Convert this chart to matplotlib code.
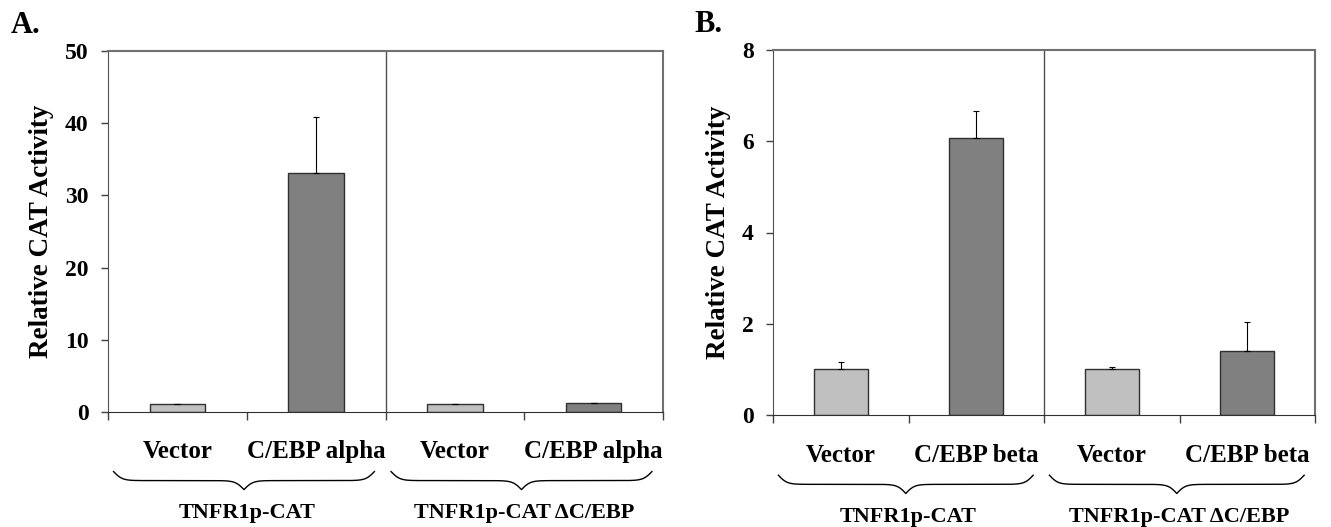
import numpy as np
import matplotlib
matplotlib.use("Agg")
import matplotlib.pyplot as plt
from matplotlib.transforms import blended_transform_factory

plt.rcParams["font.family"] = ["Liberation Serif", "DejaVu Serif"]
plt.rcParams["font.weight"] = "bold"

# ── data ──────────────────────────────────────────────────────────────
cats_a = ["Vector", "C/EBP alpha", "Vector", "C/EBP alpha"]
vals_a = [1.1, 33.1, 1.1, 1.2]
errs_a = [0.0, 7.7, 0.0, 0.0]

cats_b = ["Vector", "C/EBP beta", "Vector", "C/EBP beta"]
vals_b = [1.0, 6.07, 1.0, 1.40]
errs_b = [0.16, 0.60, 0.05, 0.63]

groups = ["TNFR1p-CAT", "TNFR1p-CAT \u0394C/EBP"]
bar_colors = ["#c0c0c0", "#808080", "#c0c0c0", "#808080"]


def brace(ax, x0, x1, y_top, y_tip):
    tr = blended_transform_factory(ax.transData, ax.transAxes)
    n = 301
    x = np.linspace(x0, x1, n)
    half = x[: n // 2 + 1]
    beta = 60.0 / (x1 - x0)
    yh = (1 / (1 + np.exp(-beta * (half - half[0])))
          + 1 / (1 + np.exp(-beta * (half - half[-1]))))
    y = np.concatenate((yh, yh[-2::-1]))
    y = (y - y.min()) / (y.max() - y.min())
    y = y_top + (y_tip - y_top) * y
    ax.plot(x, y, color="black", lw=1.0, transform=tr, clip_on=False)


def panel(ax, cats, vals, errs, ymax, step, letter, letter_x):
    xs = np.arange(len(cats))
    ax.bar(xs, vals, width=0.4, color=bar_colors, edgecolor="#303030",
           linewidth=1.0, zorder=2)
    ax.errorbar(xs, vals, yerr=[np.zeros(len(errs)), errs], fmt="none",
                ecolor="black", elinewidth=0.8, capsize=2.5, capthick=0.8,
                zorder=3)
    ax.set_xlim(-0.5, len(cats) - 0.5)
    ax.set_ylim(0, ymax)
    ax.set_yticks(np.arange(0, ymax + step / 2, step))
    ax.set_xticks(np.arange(-0.5, len(cats), 1.0))
    ax.set_xticklabels([])
    ax.tick_params(axis="y", direction="out", length=5, width=1,
                   labelsize=17, pad=9, color="#404040")
    ax.tick_params(axis="x", direction="out", length=6, width=1,
                   color="#404040")
    for lab in ax.get_yticklabels():
        lab.set_fontweight("bold")
    ax.spines["left"].set_color("#505050")
    ax.spines["bottom"].set_color("#303030")
    ax.spines["top"].set_color("#707070")
    ax.spines["right"].set_color("#707070")
    ax.spines["top"].set_linewidth(1.5)
    ax.spines["right"].set_linewidth(1.5)
    ax.axvline(1.5, color="#505050", lw=1.0, zorder=1)
    ax.set_ylabel("Relative CAT Activity", fontsize=19.5, fontweight="bold",
                  labelpad=8)

    tr = blended_transform_factory(ax.transData, ax.transAxes)
    for x, c in zip(xs, cats):
        ax.text(x, -0.11, c, transform=tr, ha="center", va="center",
                fontsize=18, fontweight="bold")
    for i, g in enumerate(groups):
        x0, x1 = 2 * i - 0.46, 2 * i + 1.42
        brace(ax, x0, x1, -0.165, -0.215)
        ax.text(2 * i + 0.5, -0.28, g, transform=tr, ha="center",
                va="center", fontsize=16, fontweight="bold")
    ax.text(letter_x, 1.05, letter, transform=ax.transAxes, fontsize=22,
            fontweight="bold", ha="left", va="baseline")


fig = plt.figure(figsize=(13.31, 5.27), dpi=100)
ax_a = fig.add_axes([108 / 1331, 1 - 412 / 527, 555 / 1331, 361 / 527])
ax_b = fig.add_axes([773 / 1331, 1 - 415 / 527, 542 / 1331, 365 / 527])

panel(ax_a, cats_a, vals_a, errs_a, 50, 10, "A.", -0.175)
panel(ax_b, cats_b, vals_b, errs_b, 8, 2, "B.", -0.145)

fig.savefig("out.png", dpi=100, facecolor="white")
